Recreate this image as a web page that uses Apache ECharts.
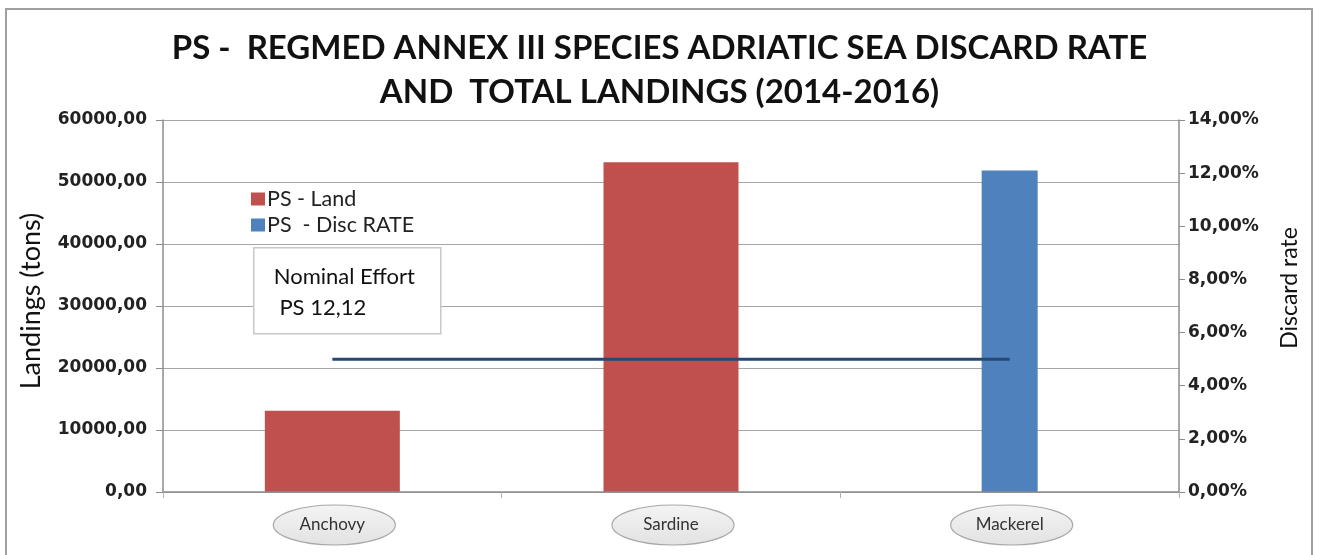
<!DOCTYPE html>
<html>
<head>
<meta charset="utf-8">
<script src="https://cdn.jsdelivr.net/npm/echarts@6/dist/echarts.min.js"></script>
<style>
  html, body { margin: 0; padding: 0; background: #ffffff; }
  #chart { width: 1319px; height: 555px; }
</style>
</head>
<body>
<div id="chart"></div>
<script>
// Species on the category axis
const species = ['Anchovy', 'Sardine', 'Mackerel'];
// Total landings, tons (left axis)
const landings = [13100, 53200, 0];
// Discard rate, % (right axis)
const discardRate = [0, 0, 12.1];
// Reference discard rate line, % (right axis)
const rateLine = [5, 5, 5];
// Legend entries
const legendNames = ['PS - Land', 'PS  - Disc RATE'];
// Text of the effort note
const effortNote = ['Nominal Effort', ' PS 12,12'];

const chart = echarts.init(document.getElementById('chart'), null, { renderer: 'canvas' });

const fmtComma = v => v.toFixed(2).replace('.', ',');

const option = {
  backgroundColor: '#ffffff',
  animation: false,
  title: {
    text: 'PS -  REGMED ANNEX III SPECIES ADRIATIC SEA DISCARD RATE\nAND  TOTAL LANDINGS (2014-2016)',
    left: 'center',
    top: 21,
    textStyle: {
      fontFamily: 'Lato',
      fontWeight: 'bold',
      fontSize: 33,
      lineHeight: 44,
      color: '#111111'
    }
  },
  legend: {
    data: legendNames,
    orient: 'vertical',
    left: 246,
    top: 183,
    itemWidth: 14,
    itemHeight: 13,
    itemGap: 4,
    icon: 'rect',
    textStyle: { fontFamily: 'Lato', fontSize: 21.5, color: '#222222', padding: [0, 0, 0, -3] }
  },
  grid: { left: 163, right: 140, top: 120, bottom: 63, containLabel: false },
  xAxis: [
    {
      type: 'category',
      data: species,
      z: 5,
      axisLine: { lineStyle: { color: '#8c8c8c', width: 1.5 } },
      axisTick: { show: true, length: 6, lineStyle: { color: '#b0b0b0' } },
      axisLabel: {
        margin: 24,
        fontFamily: 'Lato',
        fontSize: 17,
        color: '#333333'
      }
    },
    {
      type: 'category',
      data: species,
      show: false
    }
  ],
  yAxis: [
    {
      type: 'value',
      min: 0,
      max: 60000,
      interval: 10000,
      name: 'Landings (tons)',
      nameLocation: 'middle',
      nameRotate: 90,
      nameGap: 118,
      nameTextStyle: { fontFamily: 'Lato', fontSize: 27, color: '#111111', padding: [0, 0, 0, 10] },
      axisLine: { show: true, lineStyle: { color: '#8c8c8c', width: 1.5 } },
      axisTick: { show: true, length: 7, lineStyle: { color: '#8c8c8c' } },
      axisLabel: {
        margin: 16,
        formatter: v => fmtComma(v),
        fontFamily: 'DejaVu Sans',
        fontWeight: 'bold',
        fontSize: 17,
        color: '#222222'
      },
      splitLine: { show: true, lineStyle: { color: '#a6a6a6', width: 1.2 } }
    },
    {
      type: 'value',
      min: 0,
      max: 14,
      interval: 2,
      name: 'Discard rate',
      nameLocation: 'middle',
      nameRotate: 90,
      nameGap: 99,
      nameTextStyle: { fontFamily: 'Lato', fontSize: 23, color: '#111111', padding: [0, 0, 0, 36] },
      axisLine: { show: true, lineStyle: { color: '#8c8c8c', width: 1.5 } },
      axisTick: { show: true, length: 6, lineStyle: { color: '#8c8c8c' } },
      axisLabel: {
        margin: 9,
        formatter: v => fmtComma(v) + '%',
        fontFamily: 'DejaVu Sans',
        fontWeight: 'bold',
        fontSize: 17,
        color: '#222222'
      },
      splitLine: { show: false }
    }
  ],
  series: [
    {
      name: 'PS - Land',
      type: 'bar',
      xAxisIndex: 0,
      yAxisIndex: 0,
      barWidth: 135,
      data: landings,
      itemStyle: { color: '#C0504D' },
      z: 2
    },
    {
      name: 'PS  - Disc RATE',
      type: 'bar',
      xAxisIndex: 1,
      yAxisIndex: 1,
      barWidth: 56,
      data: discardRate,
      itemStyle: { color: '#4F81BD' },
      z: 2
    },
    {
      name: 'Rate line',
      type: 'line',
      xAxisIndex: 0,
      yAxisIndex: 1,
      data: rateLine,
      symbol: 'none',
      lineStyle: { color: '#254874', width: 3 },
      z: 4
    }
  ]
};

chart.setOption(option);

// Gray ellipses behind the category labels, placed at each category's pixel position
const ellipses = species.map(s => {
  const cx = chart.convertToPixel({ xAxisIndex: 0 }, s);
  return {
    type: 'ellipse',
    shape: { cx: cx + 2, cy: 525, rx: 61, ry: 20 },
    style: {
      fill: new echarts.graphic.LinearGradient(0, 0, 0, 1, [
        { offset: 0, color: '#f4f4f4' },
        { offset: 1, color: '#e2e2e2' }
      ]),
      stroke: '#a8a8a8',
      lineWidth: 1.2
    },
    z: 1
  };
});

chart.setOption({
  graphic: [
    // outer frame of the chart
    {
      type: 'rect',
      shape: { x: 6, y: 9, width: 1306, height: 560 },
      style: { fill: 'none', stroke: '#a0a0a0', lineWidth: 2 },
      z: 0,
      silent: true
    },
    ...ellipses,
    // note box with the nominal effort
    {
      type: 'group',
      left: 253,
      top: 247,
      z: 10,
      children: [
        {
          type: 'rect',
          shape: { x: 0, y: 0, width: 187, height: 86 },
          style: { fill: '#ffffff', stroke: '#c8c8c8', lineWidth: 1.5 }
        },
        {
          type: 'text',
          x: 20,
          y: 29,
          style: {
            text: effortNote[0],
            fontFamily: 'Lato',
            fontSize: 22,
            fill: '#111111',
            verticalAlign: 'middle'
          }
        },
        {
          type: 'text',
          x: 20,
          y: 60,
          style: {
            text: effortNote[1],
            fontFamily: 'Lato',
            fontSize: 22,
            fill: '#111111',
            verticalAlign: 'middle'
          }
        }
      ]
    }
  ]
});
</script>
</body>
</html>
